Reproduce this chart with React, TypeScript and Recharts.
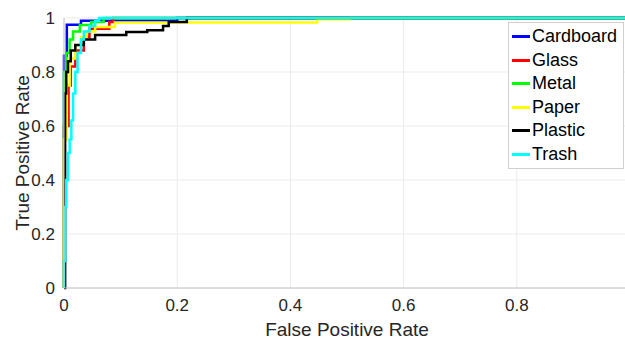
import React from "react";
import {
  LineChart,
  Line,
  XAxis,
  YAxis,
  CartesianGrid,
  Legend,
} from "recharts";

// ROC curve corner points (fpr, tpr), drawn as stepAfter
const cardboard = [
  { fpr: 0, tpr: 0 },
  { fpr: 0, tpr: 0.86 },
  { fpr: 0.005, tpr: 0.975 },
  { fpr: 0.03, tpr: 0.99 },
  { fpr: 0.2, tpr: 1 },
  { fpr: 1, tpr: 1 },
];

const glass = [
  { fpr: 0, tpr: 0 },
  { fpr: 0, tpr: 0.6 },
  { fpr: 0.008, tpr: 0.75 },
  { fpr: 0.012, tpr: 0.82 },
  { fpr: 0.02, tpr: 0.88 },
  { fpr: 0.035, tpr: 0.93 },
  { fpr: 0.045, tpr: 0.96 },
  { fpr: 0.08, tpr: 0.985 },
  { fpr: 0.087, tpr: 1 },
  { fpr: 1, tpr: 1 },
];

const metal = [
  { fpr: 0, tpr: 0 },
  { fpr: 0, tpr: 0.8 },
  { fpr: 0.004, tpr: 0.87 },
  { fpr: 0.01, tpr: 0.92 },
  { fpr: 0.016, tpr: 0.95 },
  { fpr: 0.028, tpr: 0.974 },
  { fpr: 0.048, tpr: 0.985 },
  { fpr: 0.07, tpr: 1 },
  { fpr: 1, tpr: 1 },
];

const paper = [
  { fpr: 0, tpr: 0 },
  { fpr: 0, tpr: 0.55 },
  { fpr: 0.005, tpr: 0.75 },
  { fpr: 0.01, tpr: 0.85 },
  { fpr: 0.02, tpr: 0.9 },
  { fpr: 0.03, tpr: 0.93 },
  { fpr: 0.04, tpr: 0.95 },
  { fpr: 0.055, tpr: 0.967 },
  { fpr: 0.09, tpr: 0.983 },
  { fpr: 0.447, tpr: 0.995 },
  { fpr: 0.505, tpr: 1 },
  { fpr: 1, tpr: 1 },
];

const plastic = [
  { fpr: 0, tpr: 0 },
  { fpr: 0.002, tpr: 0.72 },
  { fpr: 0.004, tpr: 0.8 },
  { fpr: 0.007, tpr: 0.84 },
  { fpr: 0.012, tpr: 0.88 },
  { fpr: 0.02, tpr: 0.9 },
  { fpr: 0.035, tpr: 0.92 },
  { fpr: 0.055, tpr: 0.937 },
  { fpr: 0.11, tpr: 0.948 },
  { fpr: 0.147, tpr: 0.955 },
  { fpr: 0.175, tpr: 0.97 },
  { fpr: 0.185, tpr: 0.985 },
  { fpr: 0.217, tpr: 1 },
  { fpr: 1, tpr: 1 },
];

const trash = [
  { fpr: 0, tpr: 0 },
  { fpr: 0, tpr: 0.1 },
  { fpr: 0.002, tpr: 0.3 },
  { fpr: 0.004, tpr: 0.4 },
  { fpr: 0.007, tpr: 0.5 },
  { fpr: 0.01, tpr: 0.55 },
  { fpr: 0.013, tpr: 0.62 },
  { fpr: 0.016, tpr: 0.72 },
  { fpr: 0.02, tpr: 0.8 },
  { fpr: 0.024, tpr: 0.87 },
  { fpr: 0.03, tpr: 0.92 },
  { fpr: 0.035, tpr: 0.95 },
  { fpr: 0.045, tpr: 0.97 },
  { fpr: 0.055, tpr: 0.99 },
  { fpr: 0.062, tpr: 1 },
  { fpr: 1, tpr: 1 },
];

const X_TICKS = [0, 0.2, 0.4, 0.6, 0.8, 1];
const Y_TICKS = [0, 0.2, 0.4, 0.6, 0.8, 1];

const SERIES = [
  { name: "Cardboard", data: cardboard, color: "#0000ff" },
  { name: "Glass", data: glass, color: "#ff0000" },
  { name: "Metal", data: metal, color: "#00ff00" },
  { name: "Paper", data: paper, color: "#ffff00" },
  { name: "Plastic", data: plastic, color: "#000000" },
  { name: "Trash", data: trash, color: "#00ffff" },
];

const FONT = "'Liberation Sans', Arial, sans-serif";
const TEXT = "#262626";

function LegendBox() {
  return (
    <div
      style={{
        border: "1px solid #d0d0d0",
        background: "#fff",
        padding: "2px 4px 2px 3px",
        fontFamily: FONT,
        fontSize: 18,
        color: "#000",
        lineHeight: "23.5px",
      }}
    >
      {SERIES.map((s) => (
        <div key={s.name} style={{ display: "flex", alignItems: "center" }}>
          <span
            style={{
              display: "inline-block",
              width: 18,
              height: 3,
              background: s.color,
              marginRight: 2,
            }}
          />
          {s.name}
        </div>
      ))}
    </div>
  );
}

export default function App() {
  return (
    <div
      style={{
        position: "absolute",
        left: 0,
        top: 0,
        width: 625,
        height: 339,
        overflow: "hidden",
        background: "#fff",
      }}
    >
      <LineChart
        width={640}
        height={339}
        margin={{ top: 18, right: 10, bottom: 0, left: 0 }}
      >
        <CartesianGrid stroke="#ebebeb" strokeWidth={1} />
        <XAxis
          type="number"
          dataKey="fpr"
          domain={[0, 1]}
          ticks={X_TICKS}
          tickFormatter={(v) => String(v)}
          height={51}
          stroke="#c4c4c4"
          tickLine={false}
          tickSize={0}
          tickMargin={11}
          tick={{ fill: TEXT, fontSize: 17, fontFamily: FONT }}
          allowDuplicatedCategory={false}
          label={{
            value: "False Positive Rate",
            position: "insideBottom",
            offset: 3,
            fill: TEXT,
            fontSize: 19,
            fontFamily: FONT,
          }}
        />
        <YAxis
          type="number"
          domain={[0, 1]}
          ticks={Y_TICKS}
          tickFormatter={(v) => String(v)}
          width={64}
          stroke="#c4c4c4"
          tickLine={false}
          tickSize={0}
          tickMargin={9}
          tick={{ fill: TEXT, fontSize: 17, fontFamily: FONT }}
          label={{
            value: "True Positive Rate",
            angle: -90,
            position: "insideLeft",
            offset: 22,
            fill: TEXT,
            fontSize: 19,
            fontFamily: FONT,
            style: { textAnchor: "middle" },
          }}
        />
        <Legend
          layout="vertical"
          verticalAlign="middle"
          align="center"
          content={() => <LegendBox />}
          wrapperStyle={{ top: 22, left: 508, width: 116 }}
        />
        {SERIES.map((s) => (
          <Line
            key={s.name}
            name={s.name}
            data={s.data}
            dataKey="tpr"
            type="stepAfter"
            stroke={s.color}
            strokeWidth={2.5}
            dot={false}
            activeDot={false}
            isAnimationActive={false}
          />
        ))}
      </LineChart>
    </div>
  );
}
